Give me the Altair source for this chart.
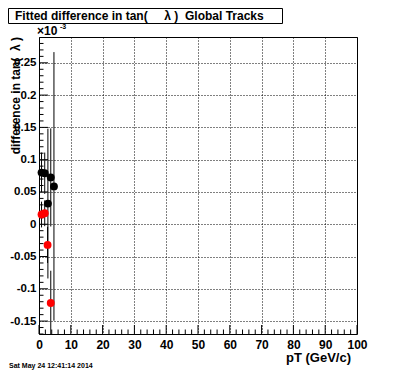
import altair as alt
import pandas as pd

# ---- data ----
black_pt = [0.8, 1.8, 2.8, 3.7, 4.7]
black_val = [0.080, 0.079, 0.032, 0.0725, 0.0586]
black_err = [0.031, 0.032, 0.116, 0.076, 0.208]

red_pt = [0.8, 1.8, 2.7, 3.7]
red_val = [0.015, 0.017, -0.032, -0.122]
red_err = [0.020, 0.020, 0.028, 0.050]

x_major = [0, 10, 20, 30, 40, 50, 60, 70, 80, 90, 100]
x_minor = [v for v in range(0, 101, 2) if v % 10 != 0]
y_major = [-0.15, -0.1, -0.05, 0, 0.05, 0.1, 0.15, 0.2, 0.25]
y_minor = [round(-0.17 + 0.01 * i, 2) for i in range(46)]
y_minor = [v for v in y_minor if round(v * 100) % 5 != 0]

X_DOMAIN = [0, 100]
Y_DOMAIN = [-0.17, 0.29]

W, H = 318, 297

rows = []
for x, y, e in zip(black_pt, black_val, black_err):
    rows.append({"pt": x, "val": y, "lo": y - e, "hi": y + e, "series": "black"})
for x, y, e in zip(red_pt, red_val, red_err):
    rows.append({"pt": x, "val": y, "lo": y - e, "hi": y + e, "series": "red"})
df = pd.DataFrame(rows)

xs = alt.Scale(domain=X_DOMAIN, nice=False, zero=False)
ys = alt.Scale(domain=Y_DOMAIN, nice=False, zero=False)
colors = alt.Scale(domain=["black", "red"], range=["#000000", "#ff0000"])

FONT = "Liberation Sans"

xaxis = alt.Axis(values=x_major, grid=True, gridDash=[1, 2], gridColor="#000000",
                 gridOpacity=1, domain=False, ticks=False, title=None,
                 labelFont=FONT, labelFontWeight="bold", labelFontSize=12,
                 labelColor="#000000", labelPadding=5, labelFlush=False,
                 labelOverlap=False)
yaxis = alt.Axis(values=y_major, grid=True, gridDash=[1, 2], gridColor="#000000",
                 gridOpacity=1, domain=False, ticks=False, title=None,
                 labelFont=FONT, labelFontWeight="bold", labelFontSize=11.5,
                 labelColor="#000000", labelPadding=3, labelOverlap=False,
                 labelExpr="'' + datum.value")

base = alt.Chart(df)

bars = base.mark_rule(color="#000000", strokeWidth=1, clip=True).encode(
    x=alt.X("pt:Q", scale=xs, axis=xaxis),
    y=alt.Y("lo:Q", scale=ys, axis=yaxis),
    y2="hi:Q",
)

pts = base.mark_circle(size=62, opacity=1).encode(
    x=alt.X("pt:Q", scale=xs, axis=xaxis),
    y=alt.Y("val:Q", scale=ys, axis=yaxis),
    color=alt.Color("series:N", scale=colors, legend=None),
)

# inward ticks
xmaj = alt.Chart(pd.DataFrame({"t": x_major})).mark_rule(color="#000000").encode(
    x=alt.X("t:Q", scale=xs, axis=xaxis), y=alt.value(H), y2=alt.value(H - 9))
xmin = alt.Chart(pd.DataFrame({"t": x_minor})).mark_rule(color="#000000").encode(
    x=alt.X("t:Q", scale=xs, axis=xaxis), y=alt.value(H), y2=alt.value(H - 4.5))
ymaj = alt.Chart(pd.DataFrame({"t": y_major})).mark_rule(color="#000000").encode(
    y=alt.Y("t:Q", scale=ys, axis=yaxis), x=alt.value(0), x2=alt.value(9))
ymin = alt.Chart(pd.DataFrame({"t": y_minor})).mark_rule(color="#000000").encode(
    y=alt.Y("t:Q", scale=ys, axis=yaxis), x=alt.value(0), x2=alt.value(4.5))

# title box and texts (placed relative to plot area)
title_box = alt.Chart(pd.DataFrame({"a": [0]})).mark_rect(
    fill="#ffffff", stroke="#000000", strokeWidth=1).encode(
    x=alt.value(-30.5), x2=alt.value(243.5), y=alt.value(-28.5), y2=alt.value(-13.5))

NB = "\u00a0"
title_text = alt.Chart(pd.DataFrame({"a": [0]})).mark_text(
    align="left", baseline="alphabetic", font=FONT, fontWeight="bold",
    fontSize=12, color="#000000").encode(
    x=alt.value(-24), y=alt.value(-17),
    text=alt.value("Fitted difference in tan(" + NB * 5 + "\u03bb" + NB + ")" + NB * 2 + "Global Tracks"))

ytitle = alt.Chart(pd.DataFrame({"a": [0]})).mark_text(
    align="right", baseline="middle", angle=270, font=FONT, fontWeight="bold",
    fontSize=12, color="#000000").encode(
    x=alt.value(-23), y=alt.value(0),
    text=alt.value("difference in tan(" + NB * 2 + "\u03bb" + NB + ")"))

xtitle = alt.Chart(pd.DataFrame({"a": [0]})).mark_text(
    align="right", baseline="alphabetic", font=FONT, fontWeight="bold",
    fontSize=13, color="#000000").encode(
    x=alt.value(312), y=alt.value(325), text=alt.value("pT (GeV/c)"))

exp_base = alt.Chart(pd.DataFrame({"a": [0]})).mark_text(
    align="left", baseline="alphabetic", font=FONT, fontWeight="bold",
    fontSize=12, color="#000000").encode(
    x=alt.value(-2), y=alt.value(-2), text=alt.value("\u00d710"))
exp_sup = alt.Chart(pd.DataFrame({"a": [0]})).mark_text(
    align="left", baseline="alphabetic", font=FONT, fontWeight="bold",
    fontSize=7, color="#000000").encode(
    x=alt.value(21), y=alt.value(-8), text=alt.value("-3"))

date_text = alt.Chart(pd.DataFrame({"a": [0]})).mark_text(
    align="left", baseline="alphabetic", font=FONT, fontWeight="bold",
    fontSize=7, color="#000000").encode(
    x=alt.value(-30), y=alt.value(331), text=alt.value("Sat May 24 12:41:14 2014"))

chart = alt.layer(
    bars, xmaj, xmin, ymaj, ymin, pts,
    title_box, title_text, ytitle, xtitle, exp_base, exp_sup, date_text,
).properties(
    width=W, height=H,
    autosize=alt.AutoSizeParams(type="none"),
    padding={"left": 31, "top": 29, "right": 31, "bottom": 36},
    background="#ffffff",
).configure_view(stroke="#000000", strokeWidth=1)

chart.save("out.html", embed_options={"renderer": "svg", "actions": False})
